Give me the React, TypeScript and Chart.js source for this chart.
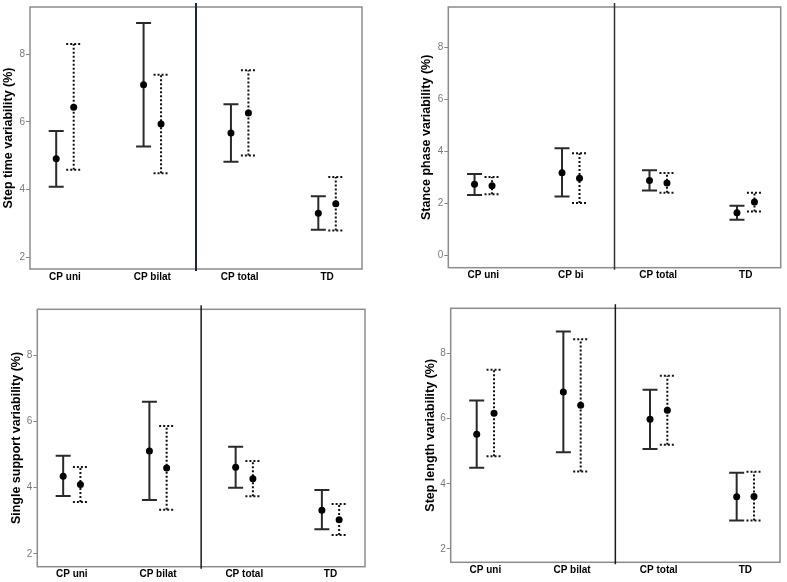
import React, { useEffect, useRef } from 'react';
import { Chart, registerables } from 'chart.js';

Chart.register(...registerables);

const FONT = 'Arial, "Liberation Sans", sans-serif';

const groupsBilat = ['CP uni', 'CP bilat', 'CP total', 'TD'];
const groupsBi = ['CP uni', 'CP bi', 'CP total', 'TD'];
const ticksFrom2 = [2, 4, 6, 8];
const ticksFrom0 = [0, 2, 4, 6, 8];

// step time variability
const stepTimeSolidMean = [4.91, 7.09, 5.67, 3.3];
const stepTimeSolidLow = [4.08, 5.27, 4.82, 2.81];
const stepTimeSolidHigh = [5.73, 8.92, 6.52, 3.8];
const stepTimeDotMean = [6.43, 5.93, 6.26, 3.58];
const stepTimeDotLow = [4.58, 4.48, 5.0, 2.79];
const stepTimeDotHigh = [8.3, 7.39, 7.52, 4.37];

// stance phase variability
const stanceSolidMean = [2.73, 3.18, 2.88, 1.64];
const stanceSolidLow = [2.32, 2.26, 2.49, 1.37];
const stanceSolidHigh = [3.13, 4.12, 3.27, 1.91];
const stanceDotMean = [2.68, 2.96, 2.78, 2.05];
const stanceDotLow = [2.35, 2.01, 2.41, 1.69];
const stanceDotHigh = [3.01, 3.92, 3.17, 2.41];

// single support variability
const singleSolidMean = [4.35, 5.11, 4.62, 3.32];
const singleSolidLow = [3.75, 3.63, 4.0, 2.74];
const singleSolidHigh = [4.97, 6.6, 5.24, 3.93];
const singleDotMean = [4.1, 4.6, 4.27, 3.03];
const singleDotLow = [3.57, 3.33, 3.74, 2.57];
const singleDotHigh = [4.63, 5.87, 4.81, 3.51];

// step length variability
const stepLenSolidMean = [5.52, 6.82, 5.98, 3.6];
const stepLenSolidLow = [4.49, 4.97, 5.07, 2.87];
const stepLenSolidHigh = [6.56, 8.68, 6.89, 4.34];
const stepLenDotMean = [6.17, 6.41, 6.26, 3.61];
const stepLenDotLow = [4.85, 4.38, 5.2, 2.87];
const stepLenDotHigh = [7.5, 8.44, 7.32, 4.37];

interface Series {
  mean: number[];
  low: number[];
  high: number[];
}

interface PanelProps {
  title: string;
  groups: string[];
  ticks: number[];
  yMin: number;
  yMax: number;
  solid: Series;
  dotted: Series;
  left: number;
  top: number;
  width: number;
  height: number;
  box: [number, number, number, number]; // left, top, right, bottom (page px)
  titleX: number;
  sepColor: string;
  sepWidth: number;
}

function Panel(p: PanelProps) {
  const ref = useRef<HTMLCanvasElement>(null);

  useEffect(() => {
    const titleSize = 12.5;
    const padLeft = p.titleX - (titleSize * 1.2) / 2;
    const [bl, bt, br, bb] = p.box;
    const offsets = [-0.1, 0.1];

    const decor = {
      id: 'decor',
      beforeDatasetsDraw(chart: any) {
        const { ctx, chartArea, scales } = chart;
        const xs = scales.x;
        const ys = scales.y;
        ctx.save();
        ctx.strokeStyle = '#8c8c8c';
        ctx.lineWidth = 1.5;
        ctx.strokeRect(chartArea.left, chartArea.top, chartArea.right - chartArea.left, chartArea.bottom - chartArea.top);

        const sx = xs.getPixelForValue(1.5);
        ctx.strokeStyle = p.sepColor;
        ctx.lineWidth = p.sepWidth;
        ctx.beginPath();
        ctx.moveTo(sx, chartArea.top - 4);
        ctx.lineTo(sx, chartArea.bottom + 2);
        ctx.stroke();

        [p.solid, p.dotted].forEach((s, k) => {
          ctx.strokeStyle = k === 0 ? '#2a2a2a' : '#111';
          ctx.lineWidth = 2;
          ctx.setLineDash(k === 0 ? [] : [2, 2]);
          s.low.forEach((lo, i) => {
            const px = xs.getPixelForValue(i + offsets[k]);
            const yl = ys.getPixelForValue(lo);
            const yh = ys.getPixelForValue(s.high[i]);
            ctx.beginPath();
            ctx.moveTo(px, yl);
            ctx.lineTo(px, yh);
            ctx.moveTo(px - 7.5, yl);
            ctx.lineTo(px + 7.5, yl);
            ctx.moveTo(px - 7.5, yh);
            ctx.lineTo(px + 7.5, yh);
            ctx.stroke();
          });
        });
        ctx.restore();
      },
    };

    const chart = new Chart(ref.current!, {
      type: 'scatter',
      data: {
        datasets: [p.solid, p.dotted].map((s, k) => ({
          data: s.mean.map((m, i) => ({ x: i + offsets[k], y: m })),
          backgroundColor: '#000',
          borderColor: '#000',
          pointRadius: 3.5,
          pointBorderWidth: 0,
        })),
      },
      options: {
        animation: false,
        responsive: false,
        devicePixelRatio: 1,
        layout: {
          padding: { left: padLeft, top: bt - p.top, right: p.left + p.width - br, bottom: 0 },
        },
        plugins: { legend: { display: false }, tooltip: { enabled: false } },
        scales: {
          x: {
            type: 'linear',
            min: -0.4,
            max: 3.4,
            afterBuildTicks: (scale: any) => {
              scale.ticks = p.groups.map((_, i) => ({ value: i }));
            },
            afterFit: (scale: any) => {
              scale.height = p.top + p.height - bb;
            },
            grid: { display: false, drawTicks: false },
            border: { display: false },
            ticks: {
              autoSkip: false,
              maxRotation: 0,
              padding: 2,
              color: '#000',
              font: { family: FONT, size: 10, weight: 'bold' },
              callback: (v: any) => p.groups[Math.round(Number(v))] ?? '',
            },
          },
          y: {
            type: 'linear',
            min: p.yMin,
            max: p.yMax,
            afterBuildTicks: (scale: any) => {
              scale.ticks = p.ticks.map((v) => ({ value: v }));
            },
            afterFit: (scale: any) => {
              scale.width = bl - p.left - padLeft;
            },
            grid: { drawOnChartArea: false, drawTicks: true, tickLength: 4, color: '#888' },
            border: { display: false },
            ticks: {
              padding: 1,
              color: '#7a7a7a',
              font: { family: FONT, size: 10 },
            },
            title: {
              display: true,
              text: p.title,
              color: '#000',
              padding: 0,
              font: { family: FONT, size: titleSize, weight: 'bold', lineHeight: 1.2 },
            },
          },
        },
      },
      plugins: [decor],
    } as any);

    return () => {
      chart.destroy();
    };
  }, [p]);

  return (
    <canvas
      ref={ref}
      width={p.width}
      height={p.height}
      style={{ position: 'absolute', left: p.left, top: p.top, width: p.width, height: p.height }}
    />
  );
}

const panels: PanelProps[] = [
  {
    title: 'Step time variability (%)',
    groups: groupsBilat,
    ticks: ticksFrom2,
    yMin: 1.65,
    yMax: 9.39,
    solid: { mean: stepTimeSolidMean, low: stepTimeSolidLow, high: stepTimeSolidHigh },
    dotted: { mean: stepTimeDotMean, low: stepTimeDotLow, high: stepTimeDotHigh },
    left: 0,
    top: 0,
    width: 394,
    height: 290,
    box: [30, 7, 362, 269],
    titleX: 8.3,
    sepColor: '#1c2450',
    sepWidth: 2,
  },
  {
    title: 'Stance phase variability (%)',
    groups: groupsBi,
    ticks: ticksFrom0,
    yMin: -0.47,
    yMax: 9.54,
    solid: { mean: stanceSolidMean, low: stanceSolidLow, high: stanceSolidHigh },
    dotted: { mean: stanceDotMean, low: stanceDotLow, high: stanceDotHigh },
    left: 394,
    top: 0,
    width: 393,
    height: 290,
    box: [448.3, 7, 780.7, 267.7],
    titleX: 33,
    sepColor: '#333',
    sepWidth: 1.5,
  },
  {
    title: 'Single support variability (%)',
    groups: groupsBilat,
    ticks: ticksFrom2,
    yMin: 1.61,
    yMax: 9.4,
    solid: { mean: singleSolidMean, low: singleSolidLow, high: singleSolidHigh },
    dotted: { mean: singleDotMean, low: singleDotLow, high: singleDotHigh },
    left: 0,
    top: 290,
    width: 394,
    height: 292,
    box: [37.3, 309.3, 365, 566.7],
    titleX: 17,
    sepColor: '#1a1a1a',
    sepWidth: 1.5,
  },
  {
    title: 'Step length variability (%)',
    groups: groupsBilat,
    ticks: ticksFrom2,
    yMin: 1.59,
    yMax: 9.39,
    solid: { mean: stepLenSolidMean, low: stepLenSolidLow, high: stepLenSolidHigh },
    dotted: { mean: stepLenDotMean, low: stepLenDotLow, high: stepLenDotHigh },
    left: 394,
    top: 290,
    width: 393,
    height: 292,
    box: [450.7, 308.3, 780, 562.3],
    titleX: 36.7,
    sepColor: '#1a1a1a',
    sepWidth: 1.5,
  },
];

export default function App() {
  return (
    <div style={{ position: 'absolute', left: 0, top: 0, width: 787, height: 582, background: '#fff' }}>
      {panels.map((p, i) => (
        <Panel key={i} {...p} />
      ))}
    </div>
  );
}
